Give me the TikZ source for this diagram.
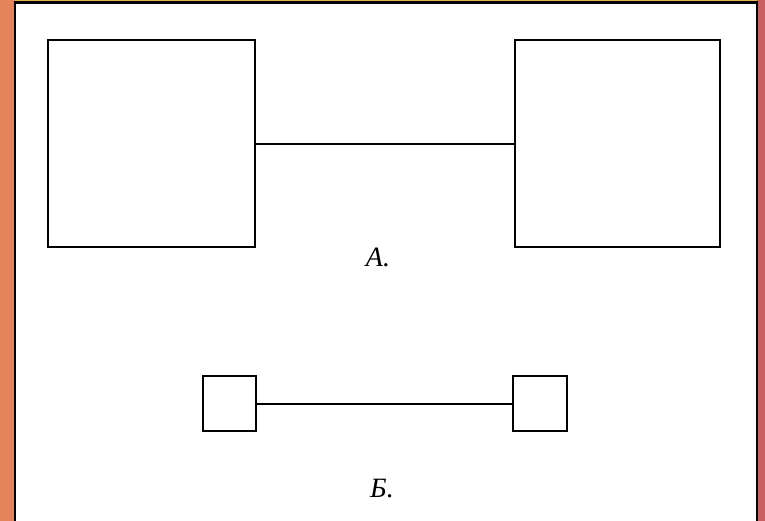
\documentclass[tikz,border=0pt]{standalone}
\usepackage{fontspec}
\setmainfont{Liberation Serif}
\definecolor{bgL}{HTML}{E3845C}
\definecolor{bgR}{HTML}{C8615F}
\definecolor{topline}{HTML}{E8B050}
\begin{document}
\begin{tikzpicture}[x=1pt,y=-1pt,
  boxst/.style={draw=black,line width=2pt,fill=white,minimum width=0,inner sep=0},
  wire/.style={black,line width=2pt},
  lab/.style={font=\itshape\fontsize{28}{30}\selectfont,inner sep=0}]
\useasboundingbox (0,0) rectangle (765,520);
\shade[left color=bgL,right color=bgR] (0,0) rectangle (765,520);
\fill[topline] (15,0) rectangle (757,2);
\fill[white] (15,2) rectangle (757,522);
\draw[black,line width=2.5pt] (15,523) -- (15,2.5) -- (757,2.5) -- (757,523);
% big boxes
\node[boxst,minimum width=207pt,minimum height=207pt] (bl) at (151.5,143.5) {};
\node[boxst,minimum width=205pt,minimum height=207pt] (br) at (617.5,143.5) {};
\draw[wire] (bl.east) -- (br.west);
\node[lab] (la) at (378,257) {A.};
% small boxes
\node[boxst,minimum width=53pt,minimum height=55pt] (sl) at (229,403.5) {};
\node[boxst,minimum width=54pt,minimum height=55pt] (sr) at (539.5,403.5) {};
\draw[wire] (sl.east) -- (sr.west);
\node[lab] (lb) at (382,489) {Б.};
\end{tikzpicture}
\end{document}
